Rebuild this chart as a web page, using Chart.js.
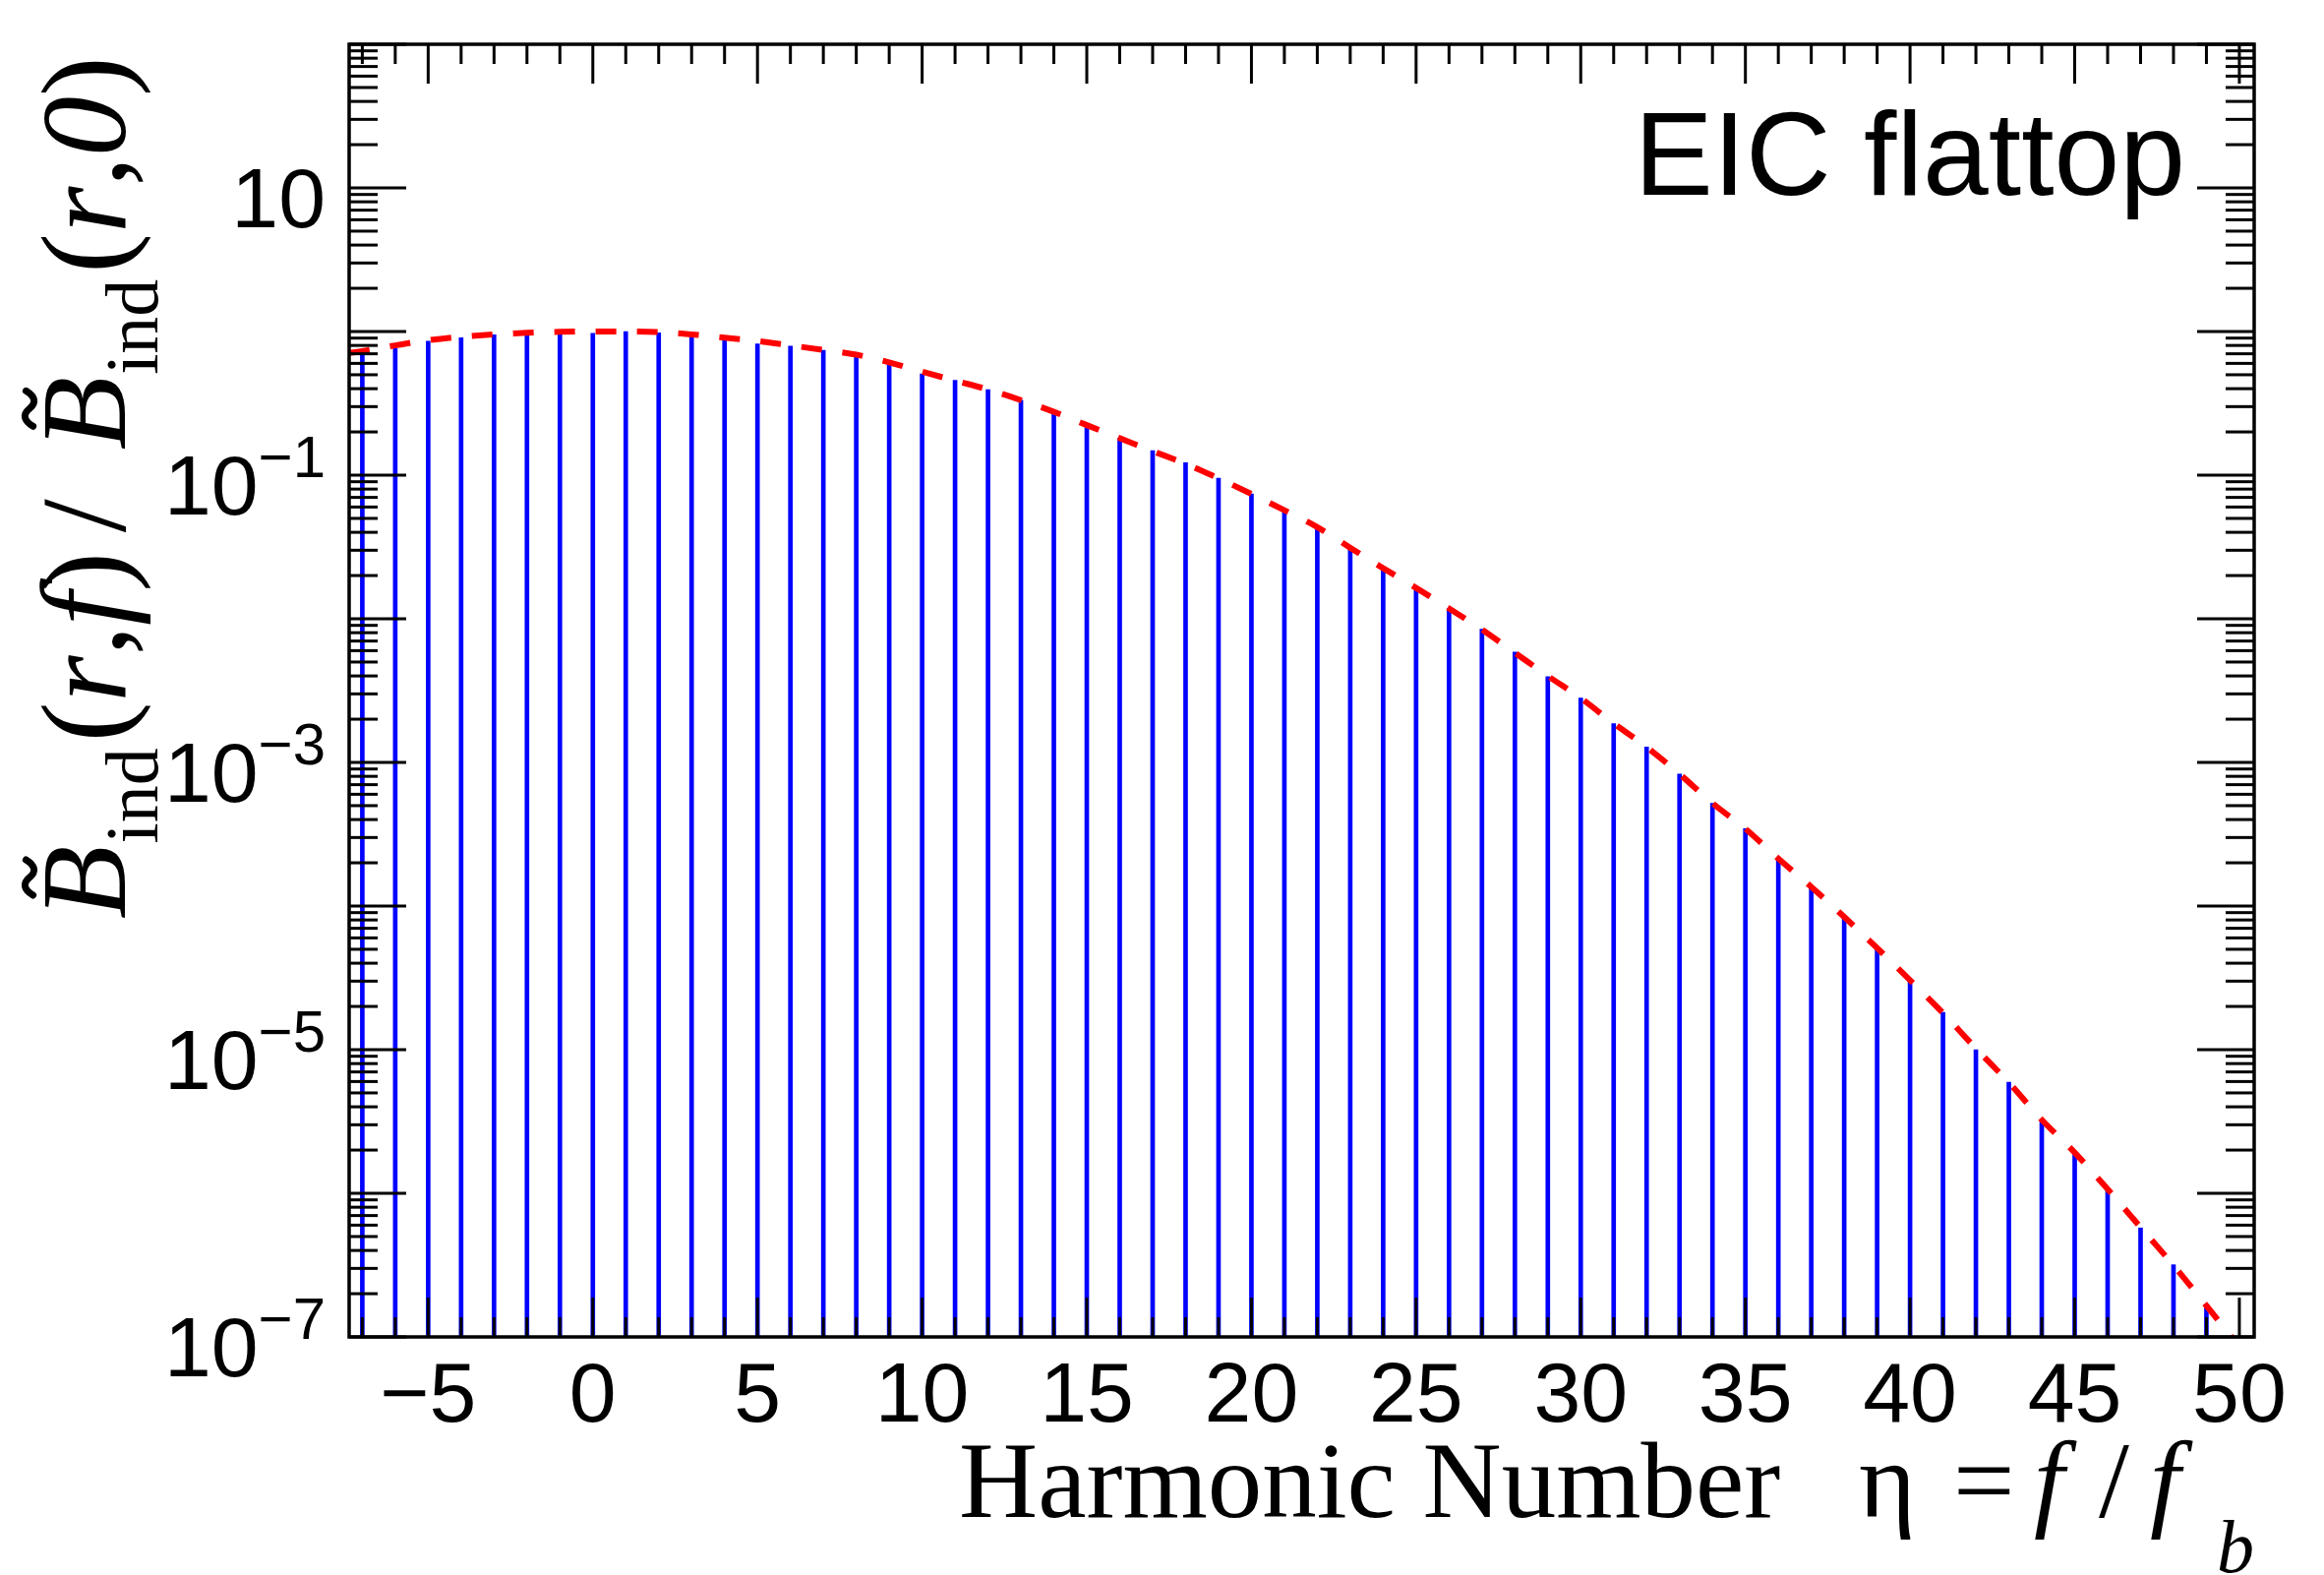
<!DOCTYPE html>
<html>
<head>
<meta charset="utf-8">
<script src="https://cdn.jsdelivr.net/npm/chart.js@4.4.1/dist/chart.umd.min.js"></script>
<style>
  html, body { margin: 0; padding: 0; background: #fff; }
  canvas { display: block; }
</style>
</head>
<body>
<canvas id="chart" width="2363" height="1601"></canvas>
<script>
// harmonic numbers that carry a bar
const eta = [-7, -6, -5, -4, -3, -2, -1, 0, 1, 2, 3, 4, 5, 6, 7, 8, 9, 10, 11, 12,
  13, 14, 15, 16, 17, 18, 19, 20, 21, 22, 23, 24, 25, 26, 27, 28, 29, 30, 31, 32,
  33, 34, 35, 36, 37, 38, 39, 40, 41, 42, 43, 44, 45, 46, 47, 48, 49];

// bar heights, B_ind(r,f)/B_ind(r,0)
const barValues = [0.703, 0.76, 0.855, 0.906, 0.948, 0.94, 0.955, 0.97, 1.0, 0.98,
  0.948, 0.87, 0.82, 0.79, 0.74, 0.69, 0.60, 0.507, 0.457, 0.394,
  0.333, 0.276, 0.223, 0.181, 0.148, 0.122, 0.0953, 0.074, 0.0569, 0.0433,
  0.031, 0.0224, 0.0164, 0.0118, 0.00847, 0.00586, 0.00395, 0.00281, 0.00186, 0.00128,
  8.3e-4, 5.19e-4, 3.46e-4, 2.14e-4, 1.36e-4, 8.4e-5, 5.14e-5, 3.07e-5, 1.82e-5, 1.0e-5,
  5.94e-6, 3.25e-6, 1.95e-6, 1.08e-6, 5.74e-7, 3.18e-7, 1.66e-7];

// red dashed envelope
const curveEta = [-7.4, -7, -6, -5, -4, -3, -2, -1, 0, 1, 2, 3, 4, 5, 6, 7, 8, 9, 10, 11,
  12, 13, 14, 15, 16, 17, 18, 19, 20, 21, 22, 23, 24, 25, 26, 27, 28, 29, 30, 31,
  32, 33, 34, 35, 36, 37, 38, 39, 40, 41, 42, 43, 44, 45, 46, 47, 48, 49, 50.3];
const curveValues = [0.71, 0.73, 0.80, 0.87, 0.92, 0.955, 0.98, 0.995, 1.0, 1.0,
  0.99, 0.955, 0.905, 0.86, 0.80, 0.745, 0.69, 0.61, 0.525, 0.455,
  0.395, 0.333, 0.276, 0.223, 0.181, 0.147, 0.120, 0.095, 0.074, 0.057,
  0.0435, 0.0312, 0.0225, 0.0164, 0.0118, 0.0084, 0.0058, 0.0040, 0.0028, 0.00187,
  0.00128, 8.3e-4, 5.2e-4, 3.45e-4, 2.14e-4, 1.36e-4, 8.4e-5, 5.1e-5, 3.05e-5, 1.8e-5,
  1.02e-5, 5.9e-6, 3.25e-6, 1.92e-6, 1.07e-6, 5.8e-7, 3.15e-7, 1.65e-7, 7.0e-8];

const xMajorTicks = [-5, 0, 5, 10, 15, 20, 25, 30, 35, 40, 45, 50];
const xTickLabels = ['\u22125', '0', '5', '10', '15', '20', '25', '30', '35', '40', '45', '50'];
const yLabelExponents = [1, -1, -3, -5, -7];

const SANS = '"Liberation Sans", Arial, Helvetica, sans-serif';
const SERIF = '"Liberation Serif", "Times New Roman", serif';

function drawTilde(c, cx, cy, w, h) {
  c.save();
  c.lineWidth = 7;
  c.lineCap = 'round';
  c.strokeStyle = '#000';
  c.beginPath();
  c.moveTo(cx - w / 2, cy + h * 0.3);
  c.quadraticCurveTo(cx - w / 4, cy - h * 0.9, cx, cy);
  c.quadraticCurveTo(cx + w / 4, cy + h * 0.9, cx + w / 2, cy - h * 0.3);
  c.stroke();
  c.restore();
}

function drawYTitle(c) {
  c.save();
  c.translate(127, 934);
  c.rotate(-Math.PI / 2);
  c.fillStyle = '#000';
  c.textAlign = 'left';
  c.textBaseline = 'alphabetic';
  const main = 122, sub = 76;
  let x = 0;
  const put = (txt, style, size, dy = 0) => {
    c.font = `${style} ${size}px ${SERIF}`;
    c.fillText(txt, x, dy);
    const x0 = x;
    x += c.measureText(txt).width;
    return x0;
  };
  for (const arg of ['f', '0']) {
    const b0 = put('B', 'italic', main);
    drawTilde(c, b0 + 42, -97, 36, 12);
    x += 2;
    put('ind', 'normal', sub, 33);
    x += 6;
    put('(', 'normal', main);
    put('r', 'italic', main);
    put(',', 'normal', main);
    put(arg, 'italic', main);
    put(')', 'normal', main);
    if (arg === 'f') {
      x += 20;
      put('/', 'normal', main);
      x += 50;
    }
  }
  c.restore();
}

const rootFrame = {
  id: 'rootFrame',
  afterDatasetsDraw(chart) {
    const { ctx: c, chartArea: a, scales: { x, y } } = chart;
    const line = (x1, y1, x2, y2) => {
      c.beginPath(); c.moveTo(x1, y1); c.lineTo(x2, y2); c.stroke();
    };
    c.save();
    c.strokeStyle = '#000';
    c.lineWidth = 3;

    // x ticks, bottom and top, pointing inward
    for (let v = Math.ceil(x.min); v <= x.max; v++) {
      const px = x.getPixelForValue(v);
      const len = v % 5 === 0 ? 40 : 20;
      line(px, a.bottom, px, a.bottom - len);
      line(px, a.top, px, a.top + len);
    }
    // log y ticks, left and right
    for (let e = -7; e <= 2; e++) {
      for (let m = 1; m <= 9; m++) {
        const v = m * Math.pow(10, e);
        if (v > y.max * 1.0001) break;
        const py = y.getPixelForValue(v);
        const len = m === 1 ? 58 : 29;
        line(a.left, py, a.left + len, py);
        line(a.right, py, a.right - len, py);
      }
    }
    c.lineWidth = 3.5;
    c.strokeRect(a.left, a.top, a.right - a.left, a.bottom - a.top);

    c.fillStyle = '#000';
    c.textBaseline = 'alphabetic';

    // x tick labels
    c.font = `86px ${SANS}`;
    c.textAlign = 'center';
    xMajorTicks.forEach((v, i) => {
      c.fillText(xTickLabels[i], x.getPixelForValue(v), 1445);
    });

    // y tick labels 10^n
    c.textAlign = 'right';
    const right = 331;
    yLabelExponents.forEach(e => {
      const base = y.getPixelForValue(Math.pow(10, e)) + 40;
      if (e === 1) {
        c.font = `86px ${SANS}`;
        c.fillText('10', right, base);
        return;
      }
      const sup = '\u2212' + Math.abs(e);
      c.font = `60px ${SANS}`;
      const sw = c.measureText(sup).width;
      c.fillText(sup, right, base - 38);
      c.font = `86px ${SANS}`;
      c.fillText('10', right - sw, base);
    });

    // label in the corner
    c.font = `120px ${SANS}`;
    c.fillText('EIC flattop', 2222, 198);

    // x axis title
    c.textAlign = 'left';
    c.font = `111px ${SERIF}`;
    c.fillText('Harmonic Number', 975, 1542);
    c.fillText('\u03b7', 1890, 1542);
    c.fillText('=', 1986, 1542);
    c.font = `italic 111px ${SERIF}`;
    c.fillText('f', 2068, 1542);
    c.font = `111px ${SERIF}`;
    c.fillText('/', 2134, 1542);
    c.font = `italic 111px ${SERIF}`;
    c.fillText('f', 2186, 1542);
    c.font = `italic 76px ${SERIF}`;
    c.fillText('b', 2254, 1598);

    drawYTitle(c);
    c.restore();
  }
};

new Chart(document.getElementById('chart'), {
  type: 'bar',
  data: {
    datasets: [
      {
        type: 'line',
        label: 'envelope',
        data: curveEta.map((e, i) => ({ x: e, y: curveValues[i] })),
        borderColor: '#ff0000',
        borderWidth: 6,
        borderDash: [21, 21],
        pointRadius: 0,
        cubicInterpolationMode: 'monotone',
        fill: false,
        clip: 0,
        order: 0
      },
      {
        type: 'bar',
        label: 'harmonics',
        data: eta.map((e, i) => ({ x: e, y: barValues[i] })),
        backgroundColor: '#0000ff',
        borderWidth: 0,
        barThickness: 4,
        order: 1
      }
    ]
  },
  options: {
    responsive: false,
    animation: false,
    devicePixelRatio: 1,
    layout: { padding: { left: 355, right: 71, top: 45, bottom: 242 } },
    plugins: { legend: { display: false }, tooltip: { enabled: false } },
    scales: {
      x: { type: 'linear', min: -7.4, max: 50.45, offset: false, display: false },
      y: { type: 'logarithmic', min: 1e-7, max: 100, display: false }
    }
  },
  plugins: [rootFrame]
});
</script>
</body>
</html>
